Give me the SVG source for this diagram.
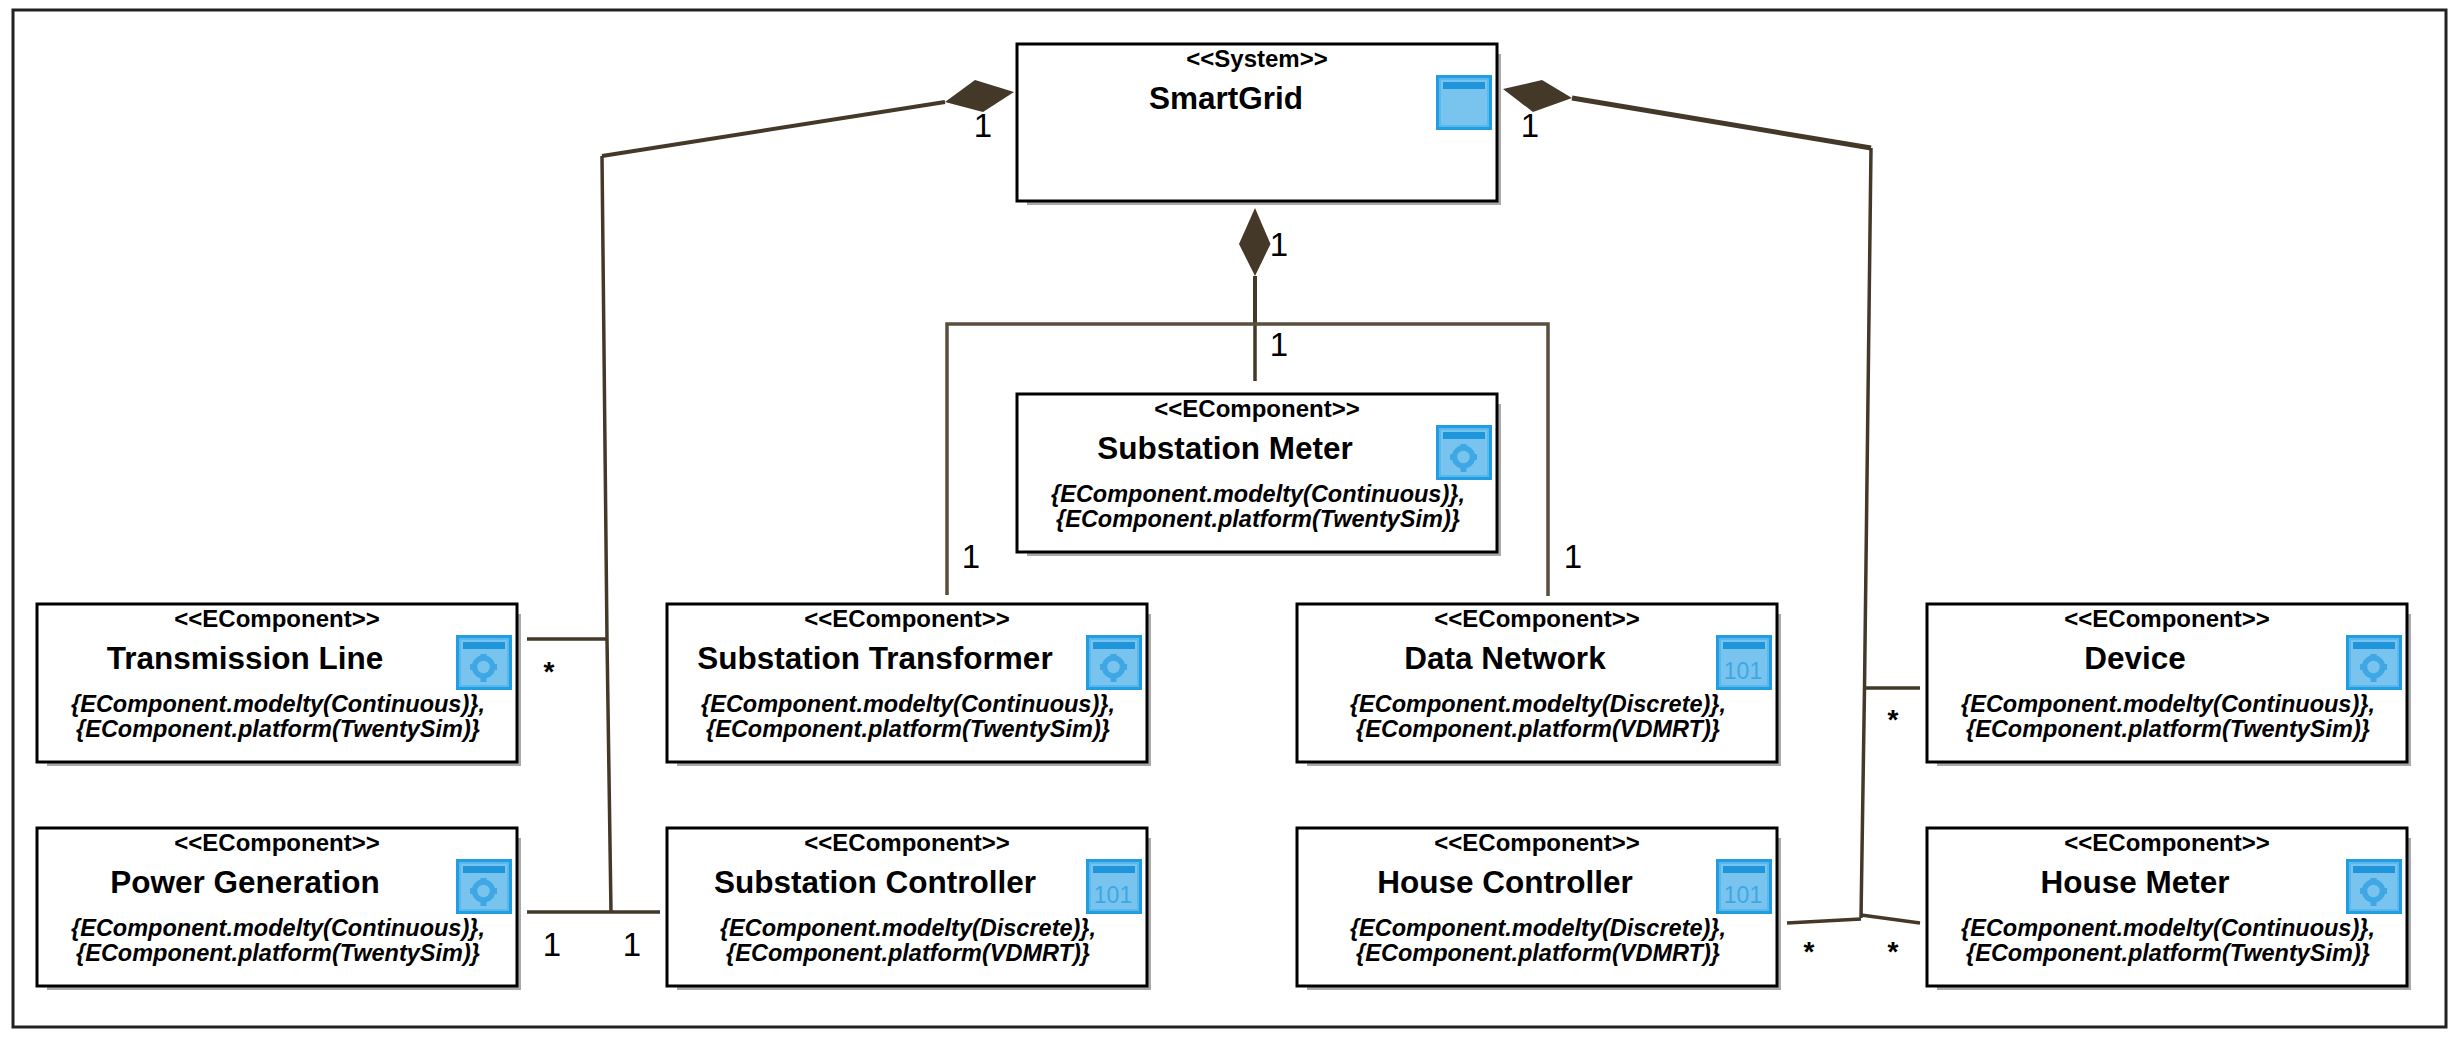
<svg xmlns="http://www.w3.org/2000/svg" width="2452" height="1038" viewBox="0 0 2452 1038">
<style>
text{font-family:"Liberation Sans",Arial,sans-serif;fill:#000}
.box{fill:#fff;stroke:#000;stroke-width:3}
.sh{fill:#aaa}
.st{font-size:24px;font-weight:bold;text-anchor:middle}
.nm{font-size:31.500px;font-weight:bold;text-anchor:middle}
.cn{font-size:23.500px;font-weight:bold;font-style:italic;text-anchor:middle}
.bin{font-size:23px;fill:#3fa8e4;text-anchor:middle}
.ln{fill:none;stroke:#443828;stroke-width:3.500}
.dm{fill:#443828;stroke:none}
.m1{font-size:33px;text-anchor:middle}
.ms{font-size:28px;font-weight:bold;text-anchor:middle}
</style>
<defs>
<g id="ic">
<rect x="0" y="0" width="56" height="55" fill="#1f9ee3"/>
<rect x="3" y="3" width="50" height="49" fill="#5cb8ea"/>
<rect x="5" y="5" width="46" height="45" fill="#78c4ee"/>
<rect x="7" y="7" width="42" height="7" fill="#1f96dc"/>
</g>
<g id="gear">
<circle cx="27.500" cy="32" r="9" fill="none" stroke="#3fa8e4" stroke-width="5.500"/>
<rect x="24.500" y="19" width="6" height="5" fill="#3fa8e4"/>
<rect x="24.500" y="40" width="6" height="7" fill="#3fa8e4"/>
<rect x="14" y="29" width="5" height="6" fill="#3fa8e4"/>
<rect x="36" y="29" width="5" height="6" fill="#3fa8e4"/>
</g>
</defs>
<g transform="translate(0,1)">
<rect id="frame" x="13" y="9" width="2433" height="1017" fill="#fff" stroke="#222" stroke-width="3"/>

<g id="connectors">
<path class="ln" style="stroke-width:4" d="M945 101 L602 155"/>
<path class="ln" d="M602 155 L607 638 L611 911"/>
<path class="ln" d="M527 638 H607"/>
<path class="ln" d="M527 911 H660"/>
<polygon class="dm" points="1014,91 975,79 945,101 983,111"/>
<path class="ln" style="stroke-width:5" d="M1572 97 L1871 147"/>
<path class="ln" d="M1871 147 L1864.500 687 L1861 917"/>
<path class="ln" d="M1865 687 H1920"/>
<path class="ln" d="M1787 922 L1861 918"/>
<path class="ln" d="M1861 914 L1920 922"/>
<polygon class="dm" points="1503,88 1542,79 1572,97 1533,111"/>
<polygon class="dm" points="1255,207 1270.500,243 1255,275 1239,243"/>
<path class="ln" style="stroke-width:4" d="M1255 275 V323"/>
<path class="ln" d="M1255 323 V380"/>
<path class="ln" style="stroke:#5a4e3c" d="M947 594 V323 H1548 V595"/>
<text class="m1" x="983" y="136">1</text>
<text class="m1" x="1530" y="136">1</text>
<text class="m1" x="1279" y="255">1</text>
<text class="m1" x="1279" y="355">1</text>
<text class="m1" x="971" y="567">1</text>
<text class="m1" x="1573" y="567">1</text>
<text class="m1" x="552" y="955">1</text>
<text class="m1" x="632" y="955">1</text>
<text class="ms" x="549" y="680">*</text>
<text class="ms" x="1893" y="728">*</text>
<text class="ms" x="1809" y="960">*</text>
<text class="ms" x="1893" y="960">*</text>
</g>

<g id="smart-grid" transform="translate(1017,43)">
<rect class="sh" x="10" y="10" width="474" height="151"/><rect class="box" width="480" height="157"/>
<use href="#ic" x="419" y="31"/>
<text class="st" x="240" y="23">&lt;&lt;System&gt;&gt;</text>
<text class="nm" x="209" y="65">SmartGrid</text>
</g>

<g id="substation-meter" transform="translate(1017,393)">
<rect class="sh" x="10" y="10" width="474" height="152"/><rect class="box" width="480" height="158"/>
<use href="#ic" x="419" y="31"/><use href="#gear" x="419" y="31"/>
<text class="st" x="240" y="23">&lt;&lt;EComponent&gt;&gt;</text>
<text class="nm" x="208" y="65">Substation Meter</text>
<text class="cn" x="241" y="108">{EComponent.modelty(Continuous)},</text>
<text class="cn" x="241" y="133">{EComponent.platform(TwentySim)}</text>
</g>

<g id="transmission-line" transform="translate(37,603)">
<rect class="sh" x="10" y="10" width="474" height="152"/><rect class="box" width="480" height="158"/>
<use href="#ic" x="419" y="31"/><use href="#gear" x="419" y="31"/>
<text class="st" x="240" y="23">&lt;&lt;EComponent&gt;&gt;</text>
<text class="nm" x="208" y="65">Transmission Line</text>
<text class="cn" x="241" y="108">{EComponent.modelty(Continuous)},</text>
<text class="cn" x="241" y="133">{EComponent.platform(TwentySim)}</text>
</g>

<g id="power-generation" transform="translate(37,827)">
<rect class="sh" x="10" y="10" width="474" height="152"/><rect class="box" width="480" height="158"/>
<use href="#ic" x="419" y="31"/><use href="#gear" x="419" y="31"/>
<text class="st" x="240" y="23">&lt;&lt;EComponent&gt;&gt;</text>
<text class="nm" x="208" y="65">Power Generation</text>
<text class="cn" x="241" y="108">{EComponent.modelty(Continuous)},</text>
<text class="cn" x="241" y="133">{EComponent.platform(TwentySim)}</text>
</g>

<g id="substation-transformer" transform="translate(667,603)">
<rect class="sh" x="10" y="10" width="474" height="152"/><rect class="box" width="480" height="158"/>
<use href="#ic" x="419" y="31"/><use href="#gear" x="419" y="31"/>
<text class="st" x="240" y="23">&lt;&lt;EComponent&gt;&gt;</text>
<text class="nm" x="208" y="65">Substation Transformer</text>
<text class="cn" x="241" y="108">{EComponent.modelty(Continuous)},</text>
<text class="cn" x="241" y="133">{EComponent.platform(TwentySim)}</text>
</g>

<g id="substation-controller" transform="translate(667,827)">
<rect class="sh" x="10" y="10" width="474" height="152"/><rect class="box" width="480" height="158"/>
<use href="#ic" x="419" y="31"/><text class="bin" x="446" y="75">101</text>
<text class="st" x="240" y="23">&lt;&lt;EComponent&gt;&gt;</text>
<text class="nm" x="208" y="65">Substation Controller</text>
<text class="cn" x="241" y="108">{EComponent.modelty(Discrete)},</text>
<text class="cn" x="241" y="133">{EComponent.platform(VDMRT)}</text>
</g>

<g id="data-network" transform="translate(1297,603)">
<rect class="sh" x="10" y="10" width="474" height="152"/><rect class="box" width="480" height="158"/>
<use href="#ic" x="419" y="31"/><text class="bin" x="446" y="75">101</text>
<text class="st" x="240" y="23">&lt;&lt;EComponent&gt;&gt;</text>
<text class="nm" x="208" y="65">Data Network</text>
<text class="cn" x="241" y="108">{EComponent.modelty(Discrete)},</text>
<text class="cn" x="241" y="133">{EComponent.platform(VDMRT)}</text>
</g>

<g id="house-controller" transform="translate(1297,827)">
<rect class="sh" x="10" y="10" width="474" height="152"/><rect class="box" width="480" height="158"/>
<use href="#ic" x="419" y="31"/><text class="bin" x="446" y="75">101</text>
<text class="st" x="240" y="23">&lt;&lt;EComponent&gt;&gt;</text>
<text class="nm" x="208" y="65">House Controller</text>
<text class="cn" x="241" y="108">{EComponent.modelty(Discrete)},</text>
<text class="cn" x="241" y="133">{EComponent.platform(VDMRT)}</text>
</g>

<g id="device" transform="translate(1927,603)">
<rect class="sh" x="10" y="10" width="474" height="152"/><rect class="box" width="480" height="158"/>
<use href="#ic" x="419" y="31"/><use href="#gear" x="419" y="31"/>
<text class="st" x="240" y="23">&lt;&lt;EComponent&gt;&gt;</text>
<text class="nm" x="208" y="65">Device</text>
<text class="cn" x="241" y="108">{EComponent.modelty(Continuous)},</text>
<text class="cn" x="241" y="133">{EComponent.platform(TwentySim)}</text>
</g>

<g id="house-meter" transform="translate(1927,827)">
<rect class="sh" x="10" y="10" width="474" height="152"/><rect class="box" width="480" height="158"/>
<use href="#ic" x="419" y="31"/><use href="#gear" x="419" y="31"/>
<text class="st" x="240" y="23">&lt;&lt;EComponent&gt;&gt;</text>
<text class="nm" x="208" y="65">House Meter</text>
<text class="cn" x="241" y="108">{EComponent.modelty(Continuous)},</text>
<text class="cn" x="241" y="133">{EComponent.platform(TwentySim)}</text>
</g>
</g>
</svg>
